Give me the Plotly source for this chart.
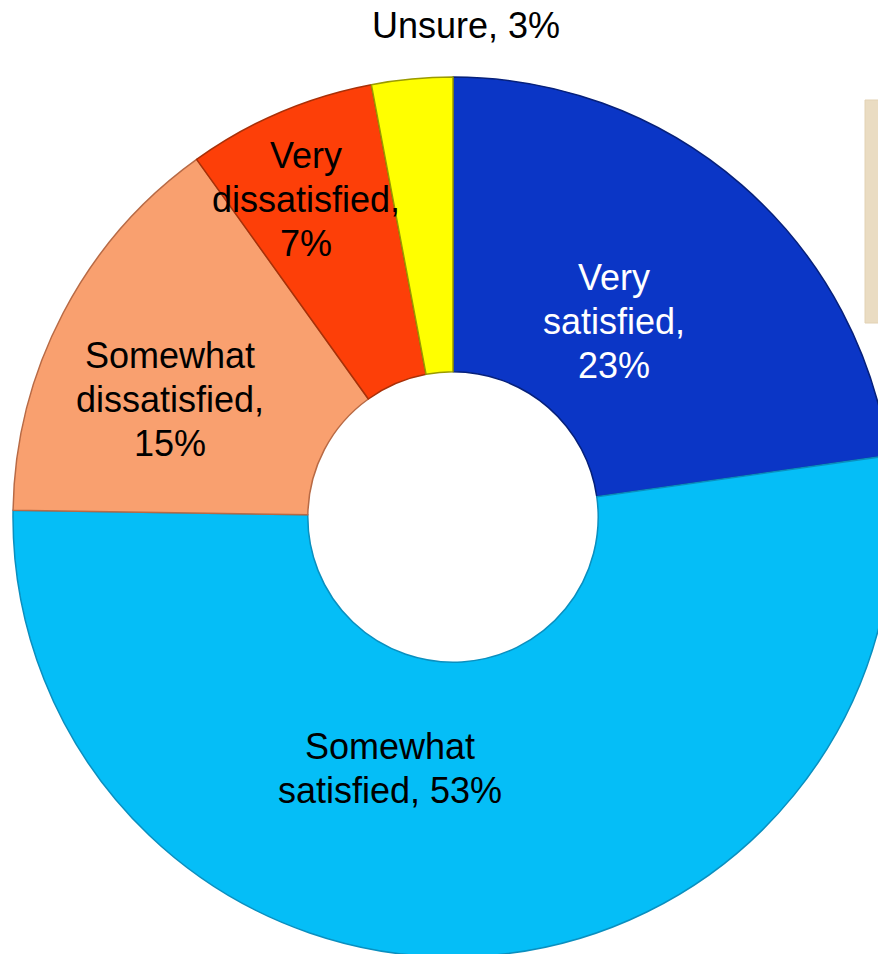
import plotly.graph_objects as go

categories = ["Very satisfied", "Somewhat satisfied", "Somewhat dissatisfied",
              "Very dissatisfied", "Unsure"]
values = [23, 53, 15, 7, 3]
label_lines = [["Very", "satisfied,", "23%"],
               ["Somewhat", "satisfied, 53%"],
               ["Somewhat", "dissatisfied,", "15%"],
               ["Very", "dissatisfied,", "7%"],
               ["Unsure, 3%"]]
colors = ["#0B36C6", "#05BEF7", "#F9A06F", "#FD3F08", "#FFFF00"]
edge_colors = ["#06207A", "#0A8FBF", "#B86A45", "#A83008", "#9A9A00"]
label_colors = ["white", "black", "black", "black", "black"]

W, H = 906, 960
# label positions on screen: (x centre, baseline of first line)
label_pos = [(614, 289), (390, 758), (170, 367), (306, 167), (466, 37)]
LINE = 44
FS = 36

fig = go.Figure()
fig.add_trace(go.Pie(
    labels=categories,
    values=values,
    hole=0.33,
    sort=False,
    direction="clockwise",
    rotation=0,
    marker=dict(colors=colors, line=dict(color=edge_colors, width=1.5)),
    textinfo="none",
    hoverinfo="label+percent",
    showlegend=False,
    domain=dict(x=[13 / W, 893 / W], y=[3 / H, 883 / H]),
))

for lines, (sx, sy), col in zip(label_lines, label_pos, label_colors):
    for i, ln in enumerate(lines):
        fy = sy + i * LINE - 0.32 * FS
        fig.add_annotation(
            x=sx / W, y=1 - fy / H, xref="paper", yref="paper",
            text=ln, showarrow=False, xanchor="center", yanchor="middle",
            align="center",
            font=dict(family="Liberation Sans, Arial, sans-serif", size=FS, color=col),
        )

fig.add_shape(type="rect", xref="paper", yref="paper",
              x0=865 / W, x1=900 / W,
              y0=1 - 323 / H, y1=1 - 100 / H,
              fillcolor="#EADCC2", line=dict(color="#E2D2B4", width=1))

fig.update_layout(
    width=W, height=H,
    margin=dict(l=0, r=0, t=0, b=0),
    paper_bgcolor="white",
    plot_bgcolor="white",
)

fig.write_html(
    "out.html",
    config={"displayModeBar": False},
    post_script="document.body.style.margin='0';"
                "document.documentElement.style.overflow='hidden';"
                "document.body.style.overflow='hidden';",
)
